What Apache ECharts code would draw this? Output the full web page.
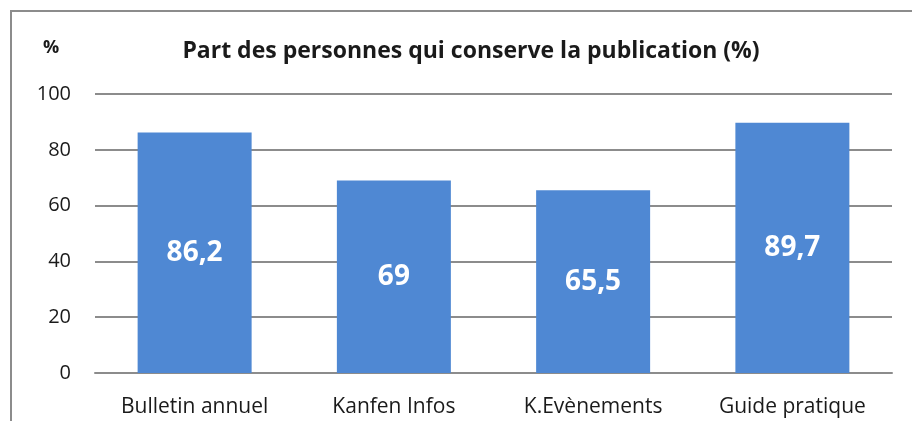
<!DOCTYPE html>
<html>
<head>
<meta charset="utf-8">
<script src="https://cdn.jsdelivr.net/npm/echarts@6/dist/echarts.min.js"></script>
<style>
  html, body { margin: 0; padding: 0; background: #fff; }
  #chart { width: 912px; height: 421px; }
</style>
</head>
<body>
<div id="chart"></div>
<script>
// categories and values (percent)
var categories = ['Bulletin annuel', 'Kanfen Infos', 'K.Evènements', 'Guide pratique'];
var values = [86.2, 69, 65.5, 89.7];
var yTicks = [0, 20, 40, 60, 80, 100];

var font = '"Open Sans", "Liberation Sans", sans-serif';
var myChart = echarts.init(document.getElementById('chart'));
myChart.setOption({
    animation: false,
    graphic: [
        {
            // cropped frame: only top and left edges visible
            type: 'polyline',
            shape: { points: [[11, 421], [11, 11], [912, 11]] },
            style: { stroke: '#8c8c8c', lineWidth: 2, fill: null }
        },
        {
            type: 'text', left: 43, top: 39,
            style: { text: '%', font: 'bold 18px ' + font, fill: '#1a1a1a' }
        }
    ],
    title: {
        text: 'Part des personnes qui conserve la publication (%)',
        left: 466, top: 35, textAlign: 'center',
        textStyle: { fontFamily: font, fontWeight: 'bold', fontSize: 23, color: '#1a1a1a' }
    },
    grid: { left: 95, right: 20, top: 94, bottom: 48 },
    xAxis: {
        type: 'category',
        data: categories,
        axisLine: { show: true, lineStyle: { color: '#8c8c8c', width: 2 } },
        axisTick: { show: false },
        axisLabel: { fontFamily: font, fontSize: 21, color: '#1a1a1a', margin: 24 }
    },
    yAxis: {
        type: 'value',
        min: yTicks[0], max: yTicks[yTicks.length - 1], interval: 20,
        axisLine: { show: false },
        axisTick: { show: false },
        splitLine: { lineStyle: { color: '#8c8c8c', width: 2 } },
        axisLabel: { fontFamily: font, fontSize: 20, color: '#1a1a1a', margin: 24 }
    },
    series: [{
        type: 'bar',
        data: values,
        barWidth: 114,
        itemStyle: { color: '#4f88d3' },
        label: {
            show: true,
            position: 'inside',
            formatter: function (p) { return String(p.value).replace('.', ','); },
            fontFamily: font, fontWeight: 'bold', fontSize: 28, color: '#fff'
        }
    }]
});
</script>
</body>
</html>
